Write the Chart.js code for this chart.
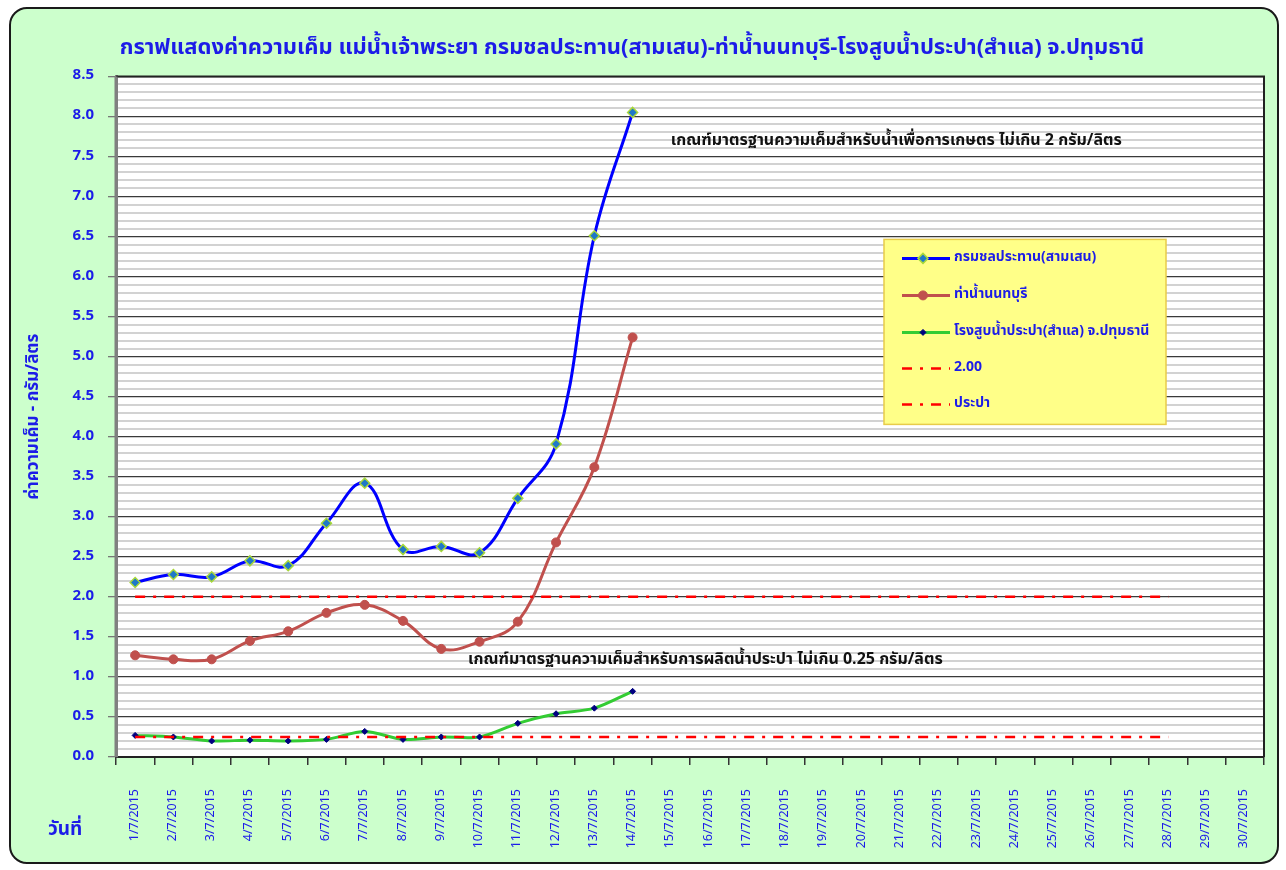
<!DOCTYPE html>
<html>
<head>
<meta charset="utf-8">
<title>ค่าความเค็ม แม่น้ำเจ้าพระยา</title>
<script src="https://cdn.jsdelivr.net/npm/chart.js@4.4.0/dist/chart.umd.min.js"></script>
<style>
  html, body { margin: 0; padding: 0; background: #fff; }
  #frame {
    position: absolute; left: 9px; top: 7px; width: 1270px; height: 857px;
    box-sizing: border-box; border: 2px solid #1a1a1a; border-radius: 18px;
    background: #ccffcc;
  }
  #wrap { position: absolute; left: 0; top: 0; width: 1286px; height: 870px; }
</style>
</head>
<body>
<div id="frame"></div>
<div id="wrap"><canvas id="salinity" width="1286" height="870"></canvas></div>

<script>
// วันที่ (แกน X)
const dates = [
  '1/7/2015', '2/7/2015', '3/7/2015', '4/7/2015', '5/7/2015', '6/7/2015',
  '7/7/2015', '8/7/2015', '9/7/2015', '10/7/2015', '11/7/2015', '12/7/2015',
  '13/7/2015', '14/7/2015', '15/7/2015', '16/7/2015', '17/7/2015', '18/7/2015',
  '19/7/2015', '20/7/2015', '21/7/2015', '22/7/2015', '23/7/2015', '24/7/2015',
  '25/7/2015', '26/7/2015', '27/7/2015', '28/7/2015', '29/7/2015', '30/7/2015'
];

// ค่าความเค็ม (กรัม/ลิตร) อ่านจากกราฟ
const samsen = [2.18, 2.28, 2.25, 2.45, 2.39, 2.92, 3.42, 2.59, 2.63, 2.55, 3.23, 3.91, 6.51, 8.05];
const nonthaburi = [1.27, 1.22, 1.22, 1.45, 1.57, 1.80, 1.90, 1.70, 1.35, 1.44, 1.69, 2.68, 3.62, 5.24];
const samlae = [0.27, 0.25, 0.20, 0.21, 0.20, 0.22, 0.32, 0.22, 0.25, 0.25, 0.42, 0.54, 0.61, 0.82];

// เส้นเกณฑ์มาตรฐาน
const limitAgri = 2.00;
const limitWater = 0.25;
const limitFrom = '1/7/2015';
const limitTo = '28/7/2015';

const seriesNames = [
  'กรมชลประทาน(สามเสน)',
  'ท่าน้ำนนทบุรี',
  'โรงสูบน้ำประปา(สำแล) จ.ปทุมธานี',
  '2.00',
  'ประปา'
];

const noteAgri = 'เกณฑ์มาตรฐานความเค็มสำหรับน้ำเพื่อการเกษตร ไม่เกิน 2 กรัม/ลิตร';
const noteWater = 'เกณฑ์มาตรฐานความเค็มสำหรับการผลิตน้ำประปา ไม่เกิน 0.25 กรัม/ลิตร';

const chartTitle = 'กราฟแสดงค่าความเค็ม แม่น้ำเจ้าพระยา กรมชลประทาน(สามเสน)-ท่าน้ำนนทบุรี-โรงสูบน้ำประปา(สำแล) จ.ปทุมธานี';
const yTitle = 'ค่าความเค็ม - กรัม/ลิตร';
const xTitle = 'วันที่';

const FONT = "Tahoma, 'Noto Sans Thai', 'Noto Sans', 'DejaVu Sans', sans-serif";
const BLUE_TEXT = '#1c1ce8';

const isMajor = (v) => Math.abs(Math.round(v * 10) % 5) === 0;

// พื้นหลังสีขาวของพื้นที่กราฟ + กรอบ + ข้อความเกณฑ์ + legend
const plotDecor = {
  id: 'plotDecor',
  beforeDraw(chart) {
    const { ctx, chartArea: a } = chart;
    ctx.save();
    ctx.fillStyle = '#ffffff';
    ctx.fillRect(a.left, a.top, a.right - a.left, a.bottom - a.top);
    ctx.restore();
  },
  afterDatasetsDraw(chart) {
    const { ctx, chartArea: a, scales } = chart;
    const x = scales.x, y = scales.y;
    ctx.save();
    // กรอบพื้นที่กราฟ
    ctx.strokeStyle = '#222';
    ctx.lineWidth = 2;
    ctx.beginPath();
    ctx.moveTo(a.left, a.top);
    ctx.lineTo(a.right, a.top);
    ctx.lineTo(a.right, a.bottom);
    ctx.stroke();
    ctx.strokeStyle = '#808080';
    ctx.lineWidth = 3;
    ctx.beginPath();
    ctx.moveTo(a.left, a.top);
    ctx.lineTo(a.left, a.bottom);
    ctx.stroke();

    // ข้อความเกณฑ์มาตรฐาน
    ctx.fillStyle = '#111';
    ctx.font = 'bold 16px ' + FONT;
    ctx.textBaseline = 'middle';
    ctx.textAlign = 'left';
    ctx.fillText(noteAgri, x.getPixelForValue(14), y.getPixelForValue(7.68));
    ctx.fillText(noteWater, x.getPixelForValue(8.7), y.getPixelForValue(1.20));

    // legend
    const lx = a.left + 768, ly = a.top + 163, lw = 282, lh = 185;
    ctx.fillStyle = '#ffff88';
    ctx.fillRect(lx, ly, lw, lh);
    ctx.strokeStyle = '#e8cc4a';
    ctx.lineWidth = 1.5;
    ctx.strokeRect(lx, ly, lw, lh);
    const rows = [19, 56, 93, 129, 165];
    chart.data.datasets.forEach((ds, i) => {
      const ry = ly + rows[i];
      ctx.save();
      ctx.strokeStyle = ds.borderColor;
      ctx.lineWidth = ds.borderWidth;
      ctx.setLineDash(ds.borderDash || []);
      ctx.beginPath();
      ctx.moveTo(lx + 18, ry);
      ctx.lineTo(lx + 66, ry);
      ctx.stroke();
      ctx.restore();
      if (ds.pointRadius > 0) {
        ctx.fillStyle = ds.pointBackgroundColor;
        ctx.strokeStyle = ds.pointBorderColor;
        ctx.lineWidth = ds.pointBorderWidth;
        Chart.helpers.drawPoint(ctx, {
          pointStyle: ds.pointStyle, radius: ds.pointRadius,
          borderWidth: ds.pointBorderWidth, rotation: 0
        }, lx + 39, ry);
      }
      ctx.fillStyle = BLUE_TEXT;
      ctx.font = 'bold 14px ' + FONT;
      ctx.textAlign = 'left';
      ctx.textBaseline = 'middle';
      ctx.fillText(ds.label, lx + 70, ry);
    });

    // ชื่อแกน X
    ctx.fillStyle = BLUE_TEXT;
    ctx.font = 'bold 19px ' + FONT;
    ctx.textAlign = 'left';
    ctx.textBaseline = 'middle';
    ctx.fillText(xTitle, 48, 831);
    ctx.restore();
  }
};

const thresholdStyle = {
  borderColor: '#ff0000',
  borderWidth: 2.5,
  borderDash: [10, 8, 3, 8],
  pointRadius: 0,
  pointHoverRadius: 0,
  fill: false,
  tension: 0,
  order: 0
};

new Chart(document.getElementById('salinity'), {
  type: 'line',
  data: {
    labels: dates,
    datasets: [
      {
        label: seriesNames[0],
        data: samsen,
        borderColor: '#0000ff',
        borderWidth: 3,
        tension: 0.4,
        pointStyle: 'rectRot',
        pointRadius: 5,
        pointBackgroundColor: '#1f78c8',
        pointBorderColor: '#a8d83a',
        pointBorderWidth: 1.5,
        order: 1
      },
      {
        label: seriesNames[1],
        data: nonthaburi,
        borderColor: '#c0504d',
        borderWidth: 3,
        tension: 0.4,
        pointStyle: 'circle',
        pointRadius: 4.5,
        pointBackgroundColor: '#c0504d',
        pointBorderColor: '#c0504d',
        pointBorderWidth: 1,
        order: 2
      },
      {
        label: seriesNames[2],
        data: samlae,
        borderColor: '#33cc33',
        borderWidth: 3,
        tension: 0.3,
        pointStyle: 'rectRot',
        pointRadius: 3,
        pointBackgroundColor: '#000080',
        pointBorderColor: '#000080',
        pointBorderWidth: 1,
        order: 3
      },
      Object.assign({
        label: seriesNames[3],
        data: [{ x: limitFrom, y: limitAgri }, { x: limitTo, y: limitAgri }]
      }, thresholdStyle),
      Object.assign({
        label: seriesNames[4],
        data: [{ x: limitFrom, y: limitWater }, { x: limitTo, y: limitWater }]
      }, thresholdStyle)
    ]
  },
  options: {
    responsive: false,
    animation: false,
    layout: { padding: { left: 0, right: 22, top: 0, bottom: 0 } },
    plugins: {
      legend: { display: false },
      tooltip: { enabled: false },
      title: {
        display: true,
        text: chartTitle,
        color: BLUE_TEXT,
        font: { family: FONT, size: 22, weight: 'bold' },
        padding: { top: 36, bottom: 14 }
      }
    },
    scales: {
      x: {
        type: 'category',
        offset: true,
        grid: {
          offset: true,
          drawOnChartArea: false,
          color: '#333',
          lineWidth: 1.5,
          tickLength: 8
        },
        border: { display: true, color: '#222', width: 2 },
        ticks: {
          autoSkip: false,
          minRotation: 90,
          maxRotation: 90,
          padding: 24,
          color: BLUE_TEXT,
          font: { family: FONT, size: 12.5 }
        },
        afterFit(scale) { scale.height = 113; }
      },
      y: {
        min: 0,
        max: 8.5,
        grid: {
          color: (c) => isMajor(c.tick.value) ? '#3a3a3a' : '#d2d2d2',
          lineWidth: (c) => isMajor(c.tick.value) ? 1.3 : 2,
          tickColor: (c) => isMajor(c.tick.value) ? '#777' : 'rgba(0,0,0,0)',
          tickLength: 8
        },
        border: { display: true, color: '#808080', width: 3 },
        ticks: {
          stepSize: 0.1,
          autoSkip: false,
          padding: 14,
          color: BLUE_TEXT,
          font: { family: FONT, size: 15, weight: 'bold' },
          callback: (v) => isMajor(v) ? (Math.round(v * 10) / 10).toFixed(1) : ''
        },
        title: {
          display: true,
          text: yTitle,
          color: BLUE_TEXT,
          font: { family: FONT, size: 17, weight: 'bold' },
          padding: { top: 24, bottom: 0 }
        },
        afterFit(scale) { scale.width = 116; }
      }
    }
  },
  plugins: [plotDecor]
});
</script>
</body>
</html>
